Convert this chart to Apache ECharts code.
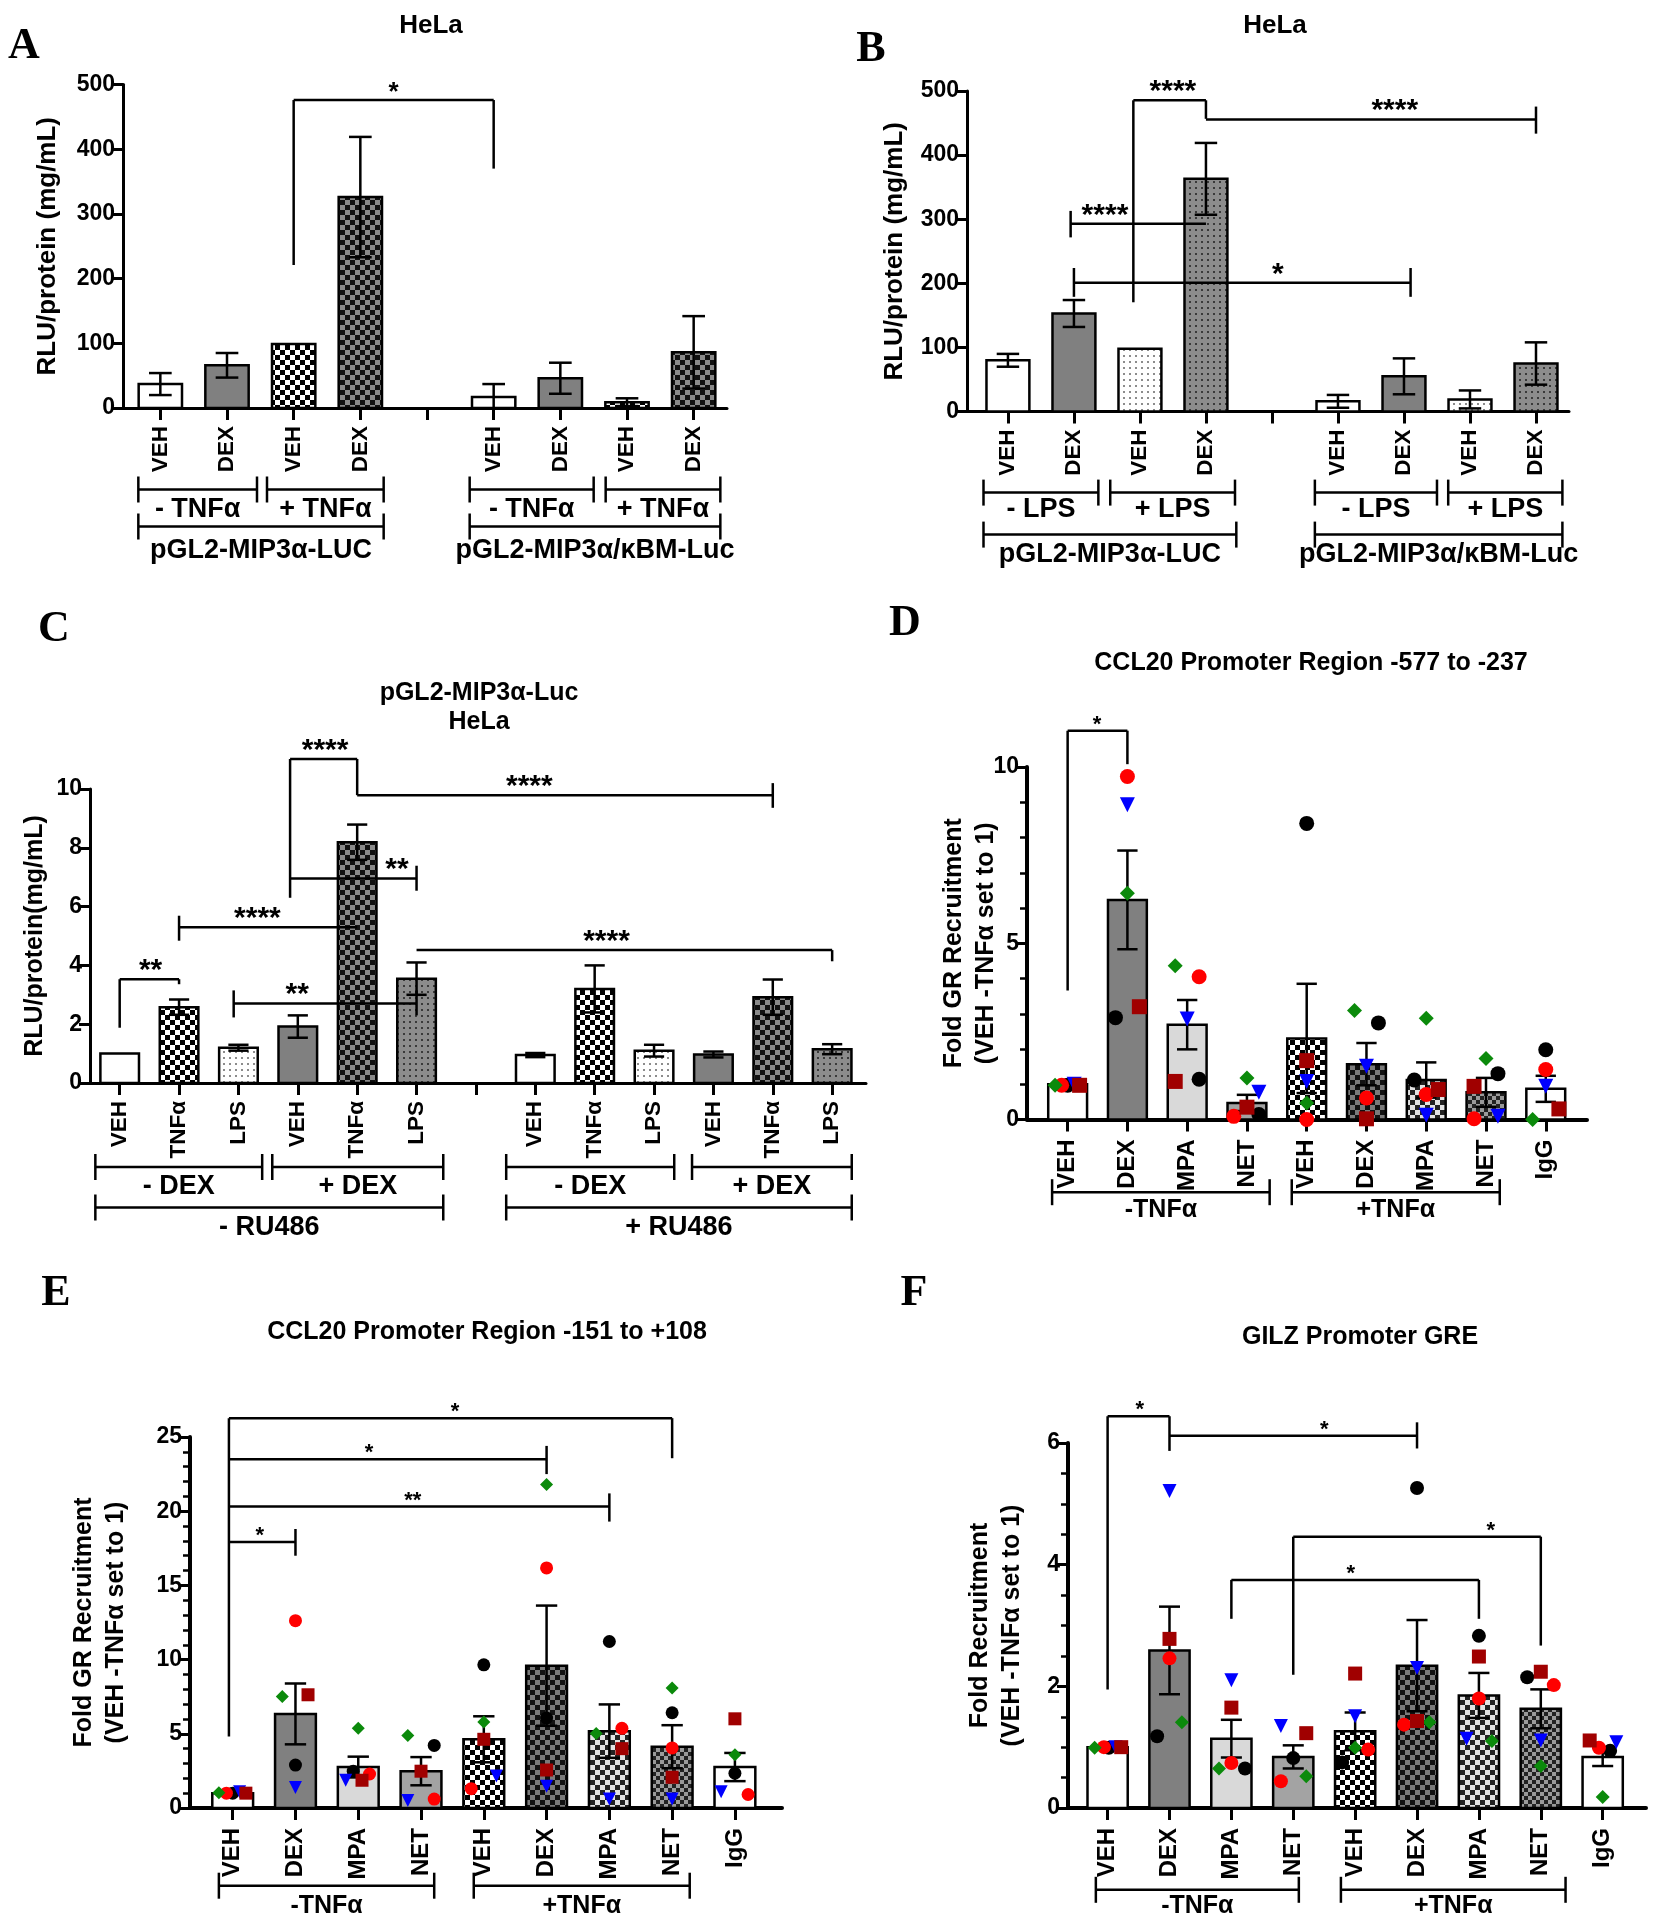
<!DOCTYPE html>
<html>
<head>
  <meta charset="utf-8">
  <title>GR recruitment panels</title>
  <script src="https://cdn.jsdelivr.net/npm/echarts@6/dist/echarts.min.js"></script>
  <style>
    html, body { margin: 0; background: #fff; }
    #chart { width: 1653px; height: 1920px; }
  </style>
</head>
<body>
<div id="chart"></div>
<script>
var FONT = 'Liberation Sans, Arial, sans-serif';

// ---------- A: HeLa, TNFa ----------
var aCats = ['VEH', 'DEX', 'VEH', 'DEX', '', 'VEH', 'DEX', 'VEH', 'DEX'];
var aMean = [37, 66, 99, 326, null, 17, 46, 9, 86];
var aSem  = [17, 19, 0, 93, null, 20, 24, 6, 56];
var aGroupNames = ['- TNFα', '+ TNFα', '- TNFα', '+ TNFα', 'pGL2-MIP3α-LUC', 'pGL2-MIP3α/κBM-Luc'];

// ---------- B: HeLa, LPS ----------
var bCats = ['VEH', 'DEX', 'VEH', 'DEX', '', 'VEH', 'DEX', 'VEH', 'DEX'];
var bMean = [80, 153, 98, 363, null, 16, 55, 19, 75];
var bSem  = [10, 21, 0, 56, null, 10, 28, 14, 33];
var bGroupNames = ['- LPS', '+ LPS', '- LPS', '+ LPS', 'pGL2-MIP3α-LUC', 'pGL2-MIP3α/κBM-Luc'];

// ---------- C: RU486 ----------
var cCats = ['VEH', 'TNFα', 'LPS', 'VEH', 'TNFα', 'LPS', '', 'VEH', 'TNFα', 'LPS', 'VEH', 'TNFα', 'LPS'];
var cMean = [1.0, 2.58, 1.2, 1.92, 8.19, 3.55, null, 0.95, 3.2, 1.1, 0.97, 2.92, 1.15];
var cSem  = [0, 0.26, 0.1, 0.38, 0.6, 0.55, null, 0.07, 0.8, 0.2, 0.1, 0.6, 0.17];
var cGroupNames = ['- DEX', '+ DEX', '- DEX', '+ DEX', '- RU486', '+ RU486'];

// ---------- D/E/F shared categories ----------
var chipCats = ['VEH', 'DEX', 'MPA', 'NET', 'VEH', 'DEX', 'MPA', 'NET', 'IgG'];
var chipGroupNames = ['-TNFα', '+TNFα'];

// D: CCL20 -577 to -237
var dMean = [1.0, 6.23, 2.69, 0.47, 2.3, 1.57, 1.12, 0.77, 0.87];
var dSem  = [0, 1.4, 0.7, 0.23, 1.55, 0.6, 0.5, 0.41, 0.37];
var dBlack   = [0.97, 2.89, 1.14, 0.14, 8.4, 2.74, 1.12, 1.3, 1.98];
var dRed     = [0.97, 9.73, 4.05, 0.09, 0.0, 0.61, 0.71, 0.02, 1.42];
var dBlue    = [1.0, 8.93, 2.85, 0.77, 1.08, 1.51, 0.12, 0.09, 0.94];
var dGreen   = [0.97, 6.42, 4.36, 1.18, 0.47, 3.09, 2.87, 1.73, 0.0];
var dDarkred = [0.97, 3.2, 1.08, 0.35, 1.67, 0.02, 0.85, 0.94, 0.3];

// E: CCL20 -151 to +108
var eMean = [1.0, 6.34, 2.76, 2.48, 4.63, 9.59, 5.18, 4.13, 2.76];
var eSem  = [0.08, 2.05, 0.7, 0.95, 1.55, 4.05, 1.8, 1.45, 0.95];
var eBlack   = [1.0, 2.89, 2.48, 4.22, 9.65, 6.06, 11.22, 6.42, 2.34];
var eRed     = [1.0, 12.62, 2.29, 0.6, 1.3, 16.18, 5.37, 4.05, 0.91];
var eBlue    = [1.1, 1.38, 1.87, 0.5, 2.15, 1.46, 0.6, 0.6, 1.1];
var eGreen   = [1.02, 7.52, 5.37, 4.88, 5.79, 21.8, 5.02, 8.08, 3.58];
var eDarkred = [1.0, 7.63, 1.87, 2.48, 4.63, 2.56, 4.0, 2.07, 6.01];

// F: GILZ GRE
var fMean = [1.0, 2.59, 1.14, 0.84, 1.26, 2.34, 1.85, 1.63, 0.84];
var fSem  = [0.03, 0.72, 0.31, 0.19, 0.31, 0.75, 0.37, 0.32, 0.15];
var fBlack   = [0.99, 1.18, 0.65, 0.82, 0.75, 5.26, 2.83, 2.15, 0.94];
var fRed     = [1.0, 2.46, 0.74, 0.44, 0.96, 1.37, 1.8, 2.02, 0.99];
var fBlue    = [1.0, 5.21, 2.1, 1.35, 1.51, 2.3, 1.14, 1.11, 1.08];
var fGreen   = [0.99, 1.41, 0.65, 0.52, 0.99, 1.41, 1.1, 0.69, 0.18];
var fDarkred = [1.0, 2.78, 1.65, 1.23, 2.21, 1.43, 2.49, 2.24, 1.11];

// canvas patterns for the hatched bars
function pattern(bg, fg, cell, kind) {
  var c = document.createElement('canvas');
  var ctx = c.getContext('2d');
  if (kind === 'chk') {
    c.width = c.height = cell * 2;
    ctx.fillStyle = bg; ctx.fillRect(0, 0, cell * 2, cell * 2);
    ctx.fillStyle = fg; ctx.fillRect(0, 0, cell, cell); ctx.fillRect(cell, cell, cell, cell);
  } else {
    c.width = c.height = cell;
    ctx.fillStyle = bg; ctx.fillRect(0, 0, cell, cell);
    ctx.fillStyle = fg; ctx.fillRect(1, 1, 2, 2);
  }
  return { image: c, repeat: 'repeat' };
}
var FILLS = {
  white: '#ffffff',
  gray: '#808080',
  lgray: '#d9d9d9',
  mgray: '#a3a3a3',
  wchk: pattern('#ffffff', '#000000', 5, 'chk'),
  dchk: pattern('#8a8a8a', '#111111', 5, 'chk'),
  ldot: pattern('#ffffff', '#8c8c8c', 6, 'dot'),
  ddot: pattern('#8c8c8c', '#3a3a3a', 6, 'dot'),
  gchk: pattern('#7a7a7a', '#111111', 5, 'chk'),
  lchk: pattern('#e3e3e3', '#222222', 5, 'chk'),
  nchk: pattern('#9a9a9a', '#222222', 4, 'chk')
};
var chipFills = ['white', 'gray', 'lgray', 'mgray', 'wchk', 'gchk', 'lchk', 'nchk', 'white'];

var REPS = [
  { symbol: 'circle', rotate: 0, color: '#000000' },
  { symbol: 'circle', rotate: 0, color: '#ff0000' },
  { symbol: 'triangle', rotate: 180, color: '#0000ff' },
  { symbol: 'diamond', rotate: 0, color: '#0b8a0b' },
  { symbol: 'rect', rotate: 0, color: '#a00000' }
];

// panel layout; brackets: [x1, x2, y, leftTop, leftBottom, rightTop, rightBottom, text, textX]
var panels = [
  { letter: 'A', letterPos: [19, 20], title: 'HeLa', titlePos: [426, 6], titleSize: 26,
    grid: { left: 123, top: 84.5, width: 604, height: 323.5 },
    xMin: -0.56, xMax: 8.5, yMax: 500, yInterval: 100, minor: 0, axisW: 3,
    yName: 'RLU/protein (mg/mL)', nameGap: 59, nameSize: 26,
    cats: aCats, mean: aMean, sem: aSem, labelMargin: 18, catSize: 22.5,
    fills: ['white', 'gray', 'wchk', 'dchk', null, 'white', 'gray', 'wchk', 'dchk'],
    groups: [[-0.33, 1.45, 0], [1.6, 3.35, 0], [4.64, 6.5, 0], [6.68, 8.4, 0], [-0.33, 3.35, 1], [4.64, 8.4, 1]],
    groupNames: aGroupNames, groupSize: 27, rowLine: [81.5, 118.5], rowText: [102, 143],
    brackets: [[2, 5, 476, 476, 221, 476, 370, '*', 3.5]], starSize: 26, reps: null },
  { letter: 'B', letterPos: [866, 23], title: 'HeLa', titlePos: [1270, 6], titleSize: 26,
    grid: { left: 967, top: 91, width: 602, height: 320.6 },
    xMin: -0.62, xMax: 8.5, yMax: 500, yInterval: 100, minor: 0, axisW: 3,
    yName: 'RLU/protein (mg/mL)', nameGap: 56, nameSize: 26,
    cats: bCats, mean: bMean, sem: bSem, labelMargin: 18, catSize: 22.5,
    fills: ['white', 'gray', 'ldot', 'ddot', null, 'white', 'gray', 'ldot', 'ddot'],
    groups: [[-0.37, 1.37, 0], [1.55, 3.44, 0], [4.65, 6.5, 0], [6.67, 8.4, 0], [-0.37, 3.46, 1], [4.65, 8.4, 1]],
    groupNames: bGroupNames, groupSize: 27, rowLine: [81, 123], rowText: [98, 143],
    brackets: [
      [1.9, 3, 485.5, 485.5, 170.5, 485.5, 456.6, '****', 2.5],
      [3, 8, 455.5, null, null, 475.7, 433.5, '****', 5.86],
      [0.95, 3, 293, 313, 271.7, null, null, '****', 1.47],
      [1, 6.1, 201, 224, 179, 224, 179, '*', 4.09]
    ], starSize: 30, reps: null },
  { letter: 'C', letterPos: [49, 603], title: 'pGL2-MIP3α-Luc\nHeLa', titlePos: [474, 674], titleSize: 25,
    grid: { left: 90, top: 789, width: 776, height: 294 },
    xMin: -0.5, xMax: 12.57, yMax: 10, yInterval: 2, minor: 0, axisW: 3,
    yName: 'RLU/protein(mg/mL)', nameGap: 39, nameSize: 25,
    cats: cCats, mean: cMean, sem: cSem, labelMargin: 18, catSize: 22.5,
    fills: ['white', 'wchk', 'ldot', 'gray', 'dchk', 'ddot', null, 'white', 'wchk', 'ldot', 'gray', 'dchk', 'ddot'],
    groups: [[-0.41, 2.4, 0], [2.57, 5.45, 0], [6.51, 9.34, 0], [9.64, 12.33, 0], [-0.41, 5.45, 1], [6.51, 12.33, 1]],
    groupNames: cGroupNames, groupSize: 27, rowLine: [84, 124.5], rowText: [104, 145],
    brackets: [
      [0, 1, 3.53, 3.53, 1.88, 3.53, 3.36, '**', 0.52],
      [1, 4, 5.30, 5.69, 4.84, null, null, '****', 2.32],
      [1.92, 5, 2.70, 3.15, 2.23, 3.15, 2.3, '**', 2.99],
      [2.87, 4, 11.02, 11.02, 6.3, 11.02, 9.79, '****', 3.46],
      [4, 11, 9.79, null, null, 10.2, 9.36, '****', 6.9],
      [2.87, 5, 6.96, null, null, 7.39, 6.54, '**', 4.67],
      [5, 12, 4.52, null, null, 4.52, 4.14, '****', 8.2]
    ], starSize: 30, reps: null },
  { letter: 'D', letterPos: [900, 597], title: 'CCL20 Promoter Region -577 to -237', titlePos: [1306, 644], titleSize: 25,
    grid: { left: 1027, top: 767, width: 560, height: 352.5 },
    xMin: -0.68, xMax: 8.69, yMax: 10, yInterval: 5, minor: 5, axisW: 4,
    yName: 'Fold GR Recruitment\n(VEH -TNFα set to 1)', nameGap: 25, nameSize: 25,
    cats: chipCats, mean: dMean, sem: dSem, labelMargin: 20, catSize: 24,
    fills: chipFills,
    groups: [[-0.26, 3.38, 0], [3.75, 7.23, 0]],
    groupNames: chipGroupNames, groupSize: 25, rowLine: [72.7], rowText: [91],
    brackets: [[0, 1, 11.03, 11.03, 3.66, 11.03, 10.08, '*', 0.49]], starSize: 22,
    reps: [dBlack, dRed, dBlue, dGreen, dDarkred], symbolSize: 15,
    jitter: [
      [0, -0.2, 0.2, 0.2, 0, 0.2, -0.2, 0.2, 0],
      [-0.1, 0, 0.2, -0.22, 0, 0, 0, -0.2, 0],
      [0.11, 0, 0, 0.2, 0, 0, 0, 0.2, 0],
      [-0.21, 0, -0.2, 0, 0, -0.2, 0, 0, -0.22],
      [0.2, 0.2, -0.2, 0, 0, 0, 0.2, -0.2, 0.22]
    ] },
  { letter: 'E', letterPos: [51, 1267], title: 'CCL20 Promoter Region -151 to +108', titlePos: [482, 1313], titleSize: 25,
    grid: { left: 190, top: 1437, width: 592, height: 371 },
    xMin: -0.68, xMax: 8.75, yMax: 25, yInterval: 5, minor: 5, axisW: 4,
    yName: 'Fold GR Recruitment\n(VEH -TNFα set to 1)', nameGap: 58, nameSize: 25,
    cats: chipCats, mean: eMean, sem: eSem, labelMargin: 20, catSize: 24,
    fills: chipFills,
    groups: [[-0.22, 3.21, 0], [3.84, 7.28, 0]],
    groupNames: chipGroupNames, groupSize: 25, rowLine: [77.7], rowText: [98],
    brackets: [
      [-0.06, 1, 17.92, null, null, 18.8, 17.0, '*', 0.43],
      [-0.06, 6, 20.31, null, null, 21.2, 19.3, '**', 2.87],
      [-0.06, 5, 23.5, null, null, 24.4, 22.5, '*', 2.17],
      [-0.06, 7, 26.27, 26.27, 4.82, 26.27, 23.57, '*', 3.54]
    ], starSize: 22,
    reps: [eBlack, eRed, eBlue, eGreen, eDarkred], symbolSize: 13,
    jitter: [
      [0, 0, -0.08, 0.21, 0, 0, 0, 0, 0],
      [-0.1, 0, 0.18, 0.21, -0.2, 0, 0.2, 0, 0.21],
      [0.11, 0, -0.2, -0.21, 0.2, 0, 0, 0, -0.22],
      [-0.22, -0.21, 0, -0.21, 0, 0, -0.21, 0, 0],
      [0.21, 0.2, 0.06, 0, 0, 0, 0.2, 0, 0]
    ] },
  { letter: 'F', letterPos: [909, 1267], title: 'GILZ Promoter GRE', titlePos: [1355, 1318], titleSize: 25,
    grid: { left: 1068, top: 1443, width: 578, height: 365 },
    xMin: -0.64, xMax: 8.7, yMax: 6, yInterval: 2, minor: 4, axisW: 4,
    yName: 'Fold Recruitment\n(VEH -TNFα set to 1)', nameGap: 40, nameSize: 25,
    cats: chipCats, mean: fMean, sem: fSem, labelMargin: 20, catSize: 24,
    fills: chipFills,
    groups: [[-0.19, 3.09, 0], [3.77, 7.4, 0]],
    groupNames: chipGroupNames, groupSize: 25, rowLine: [81.8], rowText: [98],
    brackets: [
      [0, 1, 6.44, 6.44, 1.95, 6.44, 5.87, '*', 0.52],
      [1, 5, 6.12, null, null, 6.34, 5.91, '*', 3.5],
      [3, 7, 4.46, 4.46, 2.19, 4.46, 2.67, '*', 6.19],
      [2, 6, 3.75, 3.75, 3.11, 3.75, 3.11, '*', 3.93]
    ], starSize: 22,
    reps: [fBlack, fRed, fBlue, fGreen, fDarkred], symbolSize: 14,
    jitter: [
      [0.02, -0.2, 0.22, 0, -0.21, 0, 0, -0.22, 0.12],
      [-0.06, 0, 0, -0.2, 0.21, -0.21, 0, 0.21, -0.06],
      [0.13, 0, 0, -0.2, 0, 0, -0.2, 0, 0.22],
      [-0.21, 0.2, -0.2, 0.21, 0, 0.2, 0.21, 0, 0],
      [0.22, 0, 0, 0.21, 0, 0, 0, 0, -0.21]
    ] }
];

function seg(a, b, w) {
  return { type: 'line', shape: { x1: a[0], y1: a[1], x2: b[0], y2: b[1] },
           style: { stroke: '#000', lineWidth: w || 2.5 } };
}
function label(x, y, text, size) {
  return { type: 'text', x: x, y: y,
           style: { text: text, fill: '#000', fontSize: size, fontWeight: 'bold', fontFamily: FONT,
                    align: 'center', verticalAlign: 'middle' } };
}

var option = { animation: false, backgroundColor: '#fff', title: [], grid: [], xAxis: [], yAxis: [], series: [] };

panels.forEach(function (p, k) {
  var idx = p.cats.map(function (c, i) { return i; });

  option.title.push({ text: p.letter, left: p.letterPos[0], top: p.letterPos[1], textAlign: 'center',
    textStyle: { fontFamily: 'Liberation Serif, Times New Roman, serif', fontSize: 44, fontWeight: 'bold', color: '#000' } });
  option.title.push({ text: p.title, left: p.titlePos[0], top: p.titlePos[1], textAlign: 'center',
    textStyle: { fontFamily: FONT, fontSize: p.titleSize, fontWeight: 'bold', color: '#000', lineHeight: 29 } });

  option.grid.push(p.grid);

  option.xAxis.push({
    gridIndex: k, type: 'value', min: p.xMin, max: p.xMax,
    axisLine: { show: true, onZero: false, lineStyle: { color: '#000', width: p.axisW } },
    axisTick: { show: true, customValues: idx, length: 12, lineStyle: { color: '#000', width: 3 } },
    axisLabel: { show: true, customValues: idx, rotate: 90, margin: p.labelMargin,
      formatter: function (v) { return p.cats[Math.round(v)]; },
      color: '#000', fontSize: p.catSize, fontWeight: 'bold', fontFamily: FONT },
    splitLine: { show: false }
  });

  option.yAxis.push({
    gridIndex: k, type: 'value', min: 0, max: p.yMax, interval: p.yInterval,
    axisLine: { show: true, onZero: false, lineStyle: { color: '#000', width: p.axisW } },
    axisTick: { show: true, length: 11, lineStyle: { color: '#000', width: 3 } },
    minorTick: { show: p.minor > 0, splitNumber: p.minor || 5, length: 7, lineStyle: { color: '#000', width: 2.5 } },
    axisLabel: { color: '#000', fontSize: 23, fontWeight: 'bold', fontFamily: FONT, margin: 8 },
    splitLine: { show: false },
    name: p.yName, nameLocation: 'middle', nameGap: p.nameGap, nameMoveOverlap: false,
    nameTextStyle: { color: '#000', fontSize: p.nameSize, fontWeight: 'bold', fontFamily: FONT, lineHeight: 32 }
  });

  // bars with SEM error bars
  var barData = [];
  p.mean.forEach(function (v, i) { if (v != null) barData.push([i, v, p.sem[i]]); });
  option.series.push({
    type: 'custom', xAxisIndex: k, yAxisIndex: k, z: 2, silent: true, data: barData,
    renderItem: function (params, api) {
      var x = api.value(0), v = api.value(1), e = api.value(2);
      var hw = 0.325, cw = 0.17;
      var tl = api.coord([x - hw, v]), br = api.coord([x + hw, 0]);
      var kids = [{ type: 'rect', shape: { x: tl[0], y: tl[1], width: br[0] - tl[0], height: br[1] - tl[1] },
                    style: { fill: FILLS[p.fills[x]], stroke: '#000', lineWidth: 2.5 } }];
      if (e > 0) {
        var lo = Math.max(v - e, 0), hi = v + e;
        kids.push(seg(api.coord([x, hi]), api.coord([x, lo])));
        kids.push(seg(api.coord([x - cw, hi]), api.coord([x + cw, hi])));
        if (lo > 0) kids.push(seg(api.coord([x - cw, lo]), api.coord([x + cw, lo])));
      }
      return { type: 'group', children: kids };
    }
  });

  // replicate points
  if (p.reps) {
    p.reps.forEach(function (vals, r) {
      var st = REPS[r];
      option.series.push({
        type: 'scatter', xAxisIndex: k, yAxisIndex: k, z: 6, clip: false, silent: true,
        symbol: st.symbol, symbolRotate: st.rotate, symbolSize: p.symbolSize,
        itemStyle: { color: st.color, opacity: 1 },
        data: vals.map(function (v, i) { return [i + p.jitter[r][i], v]; })
      });
    });
  }

  // significance brackets
  option.series.push({
    type: 'custom', xAxisIndex: k, yAxisIndex: k, z: 5, clip: false, silent: true,
    data: p.brackets.map(function (b) { return [b[0], b[2]]; }),
    renderItem: function (params, api) {
      var b = p.brackets[params.dataIndex];
      var kids = [seg(api.coord([b[0], b[2]]), api.coord([b[1], b[2]]))];
      if (b[3] != null) kids.push(seg(api.coord([b[0], b[3]]), api.coord([b[0], b[4]])));
      if (b[5] != null) kids.push(seg(api.coord([b[1], b[5]]), api.coord([b[1], b[6]])));
      var t = api.coord([b[8], b[2]]);
      kids.push(label(t[0], t[1] - p.starSize * 0.28, b[7], p.starSize));
      return { type: 'group', children: kids };
    }
  });

  // treatment group lines under the axis
  option.series.push({
    type: 'custom', xAxisIndex: k, yAxisIndex: k, z: 5, clip: false, silent: true,
    data: p.groups.map(function (g) { return [g[0], 0]; }),
    renderItem: function (params, api) {
      var g = p.groups[params.dataIndex];
      var a = api.coord([g[0], 0]), c = api.coord([g[1], 0]);
      var y = a[1] + p.rowLine[g[2]], leg = 13;
      return { type: 'group', children: [
        seg([a[0], y], [c[0], y]),
        seg([a[0], y - leg], [a[0], y + leg]),
        seg([c[0], y - leg], [c[0], y + leg]),
        label((a[0] + c[0]) / 2, a[1] + p.rowText[g[2]], p.groupNames[params.dataIndex], p.groupSize)
      ] };
    }
  });
});

var chart = echarts.init(document.getElementById('chart'));
chart.setOption(option);
</script>
</body>
</html>
